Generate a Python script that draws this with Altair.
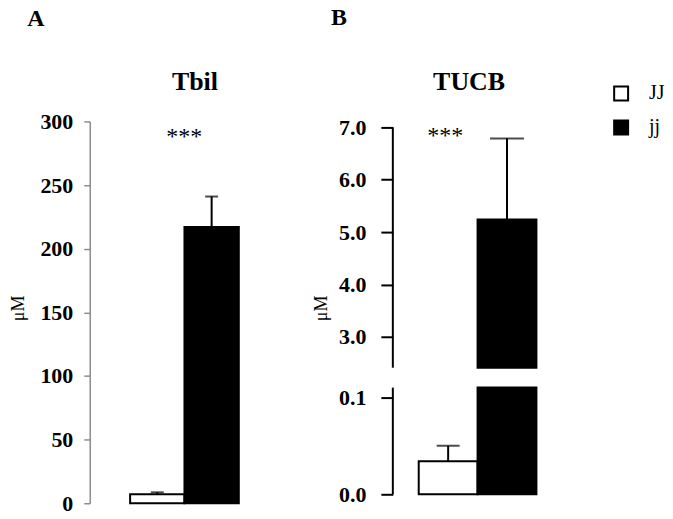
import altair as alt
import pandas as pd

groups = ["JJ", "jj"]
fills = ["white", "black"]

tbil_mean = [7.0, 217.0]
tbil_sem = [1.6, 24.0]
tbil_ticks = [0, 50, 100, 150, 200, 250, 300]

tucb_mean = [0.034, 5.24]
tucb_sem = [0.016, 1.55]
tucb_ticks = [0.0, 0.1, 3.0, 4.0, 5.0, 6.0, 7.0]
break_low = 0.11
break_high = 2.41
tucb_top = 7.114

stars = "***"
stars_y = [287.5, 6.83]
panel_titles = ["Tbil", "TUCB"]
panel_letters = ["A", "B"]
unit = "μM"

SERIF = "Liberation Serif"

legend = alt.Legend(
    title=None, orient="none", legendX=523, legendY=-38,
    symbolType="square", symbolSize=196, symbolStrokeColor="black",
    symbolStrokeWidth=2, symbolOpacity=1, labelFont=SERIF, labelFontSize=20,
    labelOffset=18, rowPadding=12, labelColor="black",
)
fill_enc = alt.Fill("g:N", scale=alt.Scale(domain=groups, range=fills), legend=legend)


def xenc(po):
    return alt.X("g:N", sort=groups, axis=None,
                 scale=alt.Scale(domain=groups, paddingInner=0, paddingOuter=po))


def label_text(txt, x, y, size, weight):
    return alt.Chart(pd.DataFrame({"t": [txt]})).mark_text(
        font=SERIF, fontSize=size, fontWeight=weight, baseline="alphabetic",
        align="center", color="black"
    ).encode(x=alt.value(x), y=alt.value(y), text="t:N")


# ---------------- Panel A ----------------
dfA = pd.DataFrame({
    "g": groups,
    "mean": tbil_mean,
    "upper": [m + s for m, s in zip(tbil_mean, tbil_sem)],
})
yA_scale = alt.Scale(domain=[0, 300], nice=False, zero=True)
axisA = alt.Axis(
    values=tbil_ticks, grid=False, domainColor="#8c8c8c", domainWidth=1.5,
    tickColor="#8c8c8c", tickWidth=1.5, tickSize=6, labelPadding=11,
    labelFont=SERIF, labelFontSize=22, labelFontWeight="bold", labelColor="black",
    titleFont=SERIF, titleFontSize=18, titleFontWeight="normal", titleColor="black",
    titleX=-71, titleY=187, titleBaseline="middle",
)
xA = xenc(0.743)

barsA = alt.Chart(dfA).mark_bar(stroke="black", strokeWidth=2).encode(
    x=xA, y=alt.Y("mean:Q", scale=yA_scale, axis=axisA, title=unit), fill=fill_enc
)
errA = alt.Chart(dfA).mark_rule(color="black", strokeWidth=2).encode(
    x=xA, y=alt.Y("mean:Q", title=unit), y2="upper:Q"
)
capA = alt.Chart(dfA).mark_tick(color="black", thickness=2, size=13).encode(
    x=xA, y=alt.Y("upper:Q", title=unit)
)
starsA = alt.Chart(pd.DataFrame({"g": ["JJ"], "y": [stars_y[0]], "t": [stars]})).mark_text(
    font=SERIF, fontSize=24, baseline="middle", dx=27, color="black"
).encode(x=xA, y=alt.Y("y:Q", title=unit), text="t:N")
letterA = label_text(panel_letters[0], -54, -96, 24, "bold")
titleA = label_text(panel_titles[0], 105.5, -31.5, 26, "bold")

panelA = alt.layer(barsA, errA, capA, starsA, letterA, titleA).properties(
    width=190, height=383
)

# ---------------- Panel B ----------------
dfB = pd.DataFrame({
    "g": groups,
    "mean": tucb_mean,
    "upper": [m + s for m, s in zip(tucb_mean, tucb_sem)],
})
pieces = []
for g, m in zip(groups, tucb_mean):
    if m > break_high:
        pieces.append({"g": g, "lo": 0.0, "hi": break_low})
        pieces.append({"g": g, "lo": break_high, "hi": m})
    else:
        pieces.append({"g": g, "lo": 0.0, "hi": m})
dfPieces = pd.DataFrame(pieces)
dfDomain = pd.DataFrame({"lo": [0.0, break_high], "hi": [break_low, max(tucb_ticks)]})

yB_scale = alt.Scale(domain=[0, break_low, break_high, tucb_top],
                     range=[374, 267, 247, 0], nice=False, zero=False)
axisB = alt.Axis(
    values=tucb_ticks, format=".1f", grid=False, domain=False,
    tickColor="black", tickWidth=2, tickSize=12, labelPadding=15,
    labelFont=SERIF, labelFontSize=22, labelFontWeight="bold", labelColor="black",
    titleFont=SERIF, titleFontSize=18, titleFontWeight="normal", titleColor="black",
    titleX=-72, titleBaseline="middle",
)
xB = xenc(0.44)

barsB = alt.Chart(dfPieces).mark_bar(stroke="black", strokeWidth=2).encode(
    x=xB, y=alt.Y("lo:Q", scale=yB_scale, axis=axisB, title=unit), y2="hi:Q", fill=fill_enc
)
domB = alt.Chart(dfDomain).mark_rule(color="black", strokeWidth=2).encode(
    x=alt.value(0), y=alt.Y("lo:Q", title=unit), y2="hi:Q"
)
errB = alt.Chart(dfB).mark_rule(color="black", strokeWidth=2).encode(
    x=xB, y=alt.Y("mean:Q", title=unit), y2="upper:Q"
)
capB1 = alt.Chart(dfB).transform_filter(alt.datum.g == groups[0]).mark_tick(
    color="black", thickness=2, size=23).encode(x=xB, y=alt.Y("upper:Q", title=unit))
capB2 = alt.Chart(dfB).transform_filter(alt.datum.g == groups[1]).mark_tick(
    color="black", thickness=2, size=34).encode(x=xB, y=alt.Y("upper:Q", title=unit))
starsB = alt.Chart(pd.DataFrame({"g": ["JJ"], "y": [stars_y[1]], "t": [stars]})).mark_text(
    font=SERIF, fontSize=24, baseline="middle", dx=-3, color="black"
).encode(x=xB, y=alt.Y("y:Q", title=unit), text="t:N")
letterB = label_text(panel_letters[1], -54, -97, 24, "bold")
titleB = label_text(panel_titles[1], 76.5, -32, 26, "bold")

panelB = alt.layer(barsB, domB, errB, capB1, capB2, starsB, letterB, titleB).properties(
    width=170, height=374
)

chart = alt.hconcat(panelA, panelB, spacing=114, bounds="flush").properties(
    padding={"left": 2, "top": -3, "right": 0, "bottom": 0}
).configure(background="white", view=alt.ViewConfig(stroke=None))

chart.save("out.html", embed_options={"renderer": "svg", "actions": False})
